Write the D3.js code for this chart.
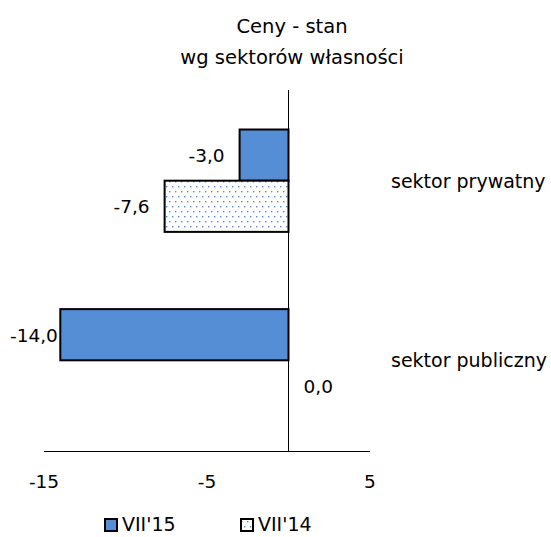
<!DOCTYPE html>
<html>
<head>
<meta charset="utf-8">
<script src="https://cdn.jsdelivr.net/npm/d3@7"></script>
<style>
  body { margin: 0; background: #fff; }
  text { font-family: "DejaVu Sans", Verdana, sans-serif; fill: #000; }
</style>
</head>
<body>
<svg width="551" height="537"></svg>
<script>
var width = 551;
var height = 537;

var categories = ["sektor prywatny", "sektor publiczny"];
var seriesNames = ["VII'15", "VII'14"];
var vii15 = [-3.0, -14.0];
var vii14 = [-7.6, 0.0];
var xTicks = [-15, -5, 5];

var blue = "#558ed5";

var svg = d3.select("svg");

var defs = svg.append("defs");
var pat = defs.append("pattern")
  .attr("id", "dots")
  .attr("patternUnits", "userSpaceOnUse")
  .attr("width", 6)
  .attr("height", 10);
pat.append("rect").attr("width", 6).attr("height", 10).attr("fill", "#fff");
pat.append("rect").attr("x", 1).attr("y", 1).attr("width", 1.4).attr("height", 1.4).attr("fill", blue);
pat.append("rect").attr("x", 4).attr("y", 6).attr("width", 1.4).attr("height", 1.4).attr("fill", blue);

var x = d3.scaleLinear().domain([-15, 5]).range([44, 370]);

var y = d3.scaleBand().domain(categories).range([90, 451]).paddingInner(0.43).paddingOuter(0.22);
var ySub = d3.scaleBand().domain(seriesNames).range([0, y.bandwidth()]);

// hyphen minus like the original, comma decimal
function fmt(v) { return d3.format(".1f")(v).replace("\u2212", "-").replace(".", ","); }

// title
svg.append("text").attr("x", 292).attr("y", 33).attr("text-anchor", "middle")
  .style("font-size", "19.5px").text("Ceny - stan");
svg.append("text").attr("x", 292).attr("y", 64).attr("text-anchor", "middle")
  .style("font-size", "19.5px").text("wg sektorów własności");

var rows = [];
categories.forEach(function (c, i) {
  rows.push({ cat: c, s: seriesNames[0], v: vii15[i] });
  rows.push({ cat: c, s: seriesNames[1], v: vii14[i] });
});

svg.selectAll("rect.bar")
  .data(rows.filter(d => d.v !== 0))
  .enter()
  .append("rect")
    .attr("class", "bar")
    .attr("x", d => x(Math.min(0, d.v)))
    .attr("width", d => Math.abs(x(d.v) - x(0)))
    .attr("y", d => y(d.cat) + ySub(d.s))
    .attr("height", ySub.bandwidth())
    .attr("fill", d => d.s === seriesNames[0] ? blue : "url(#dots)")
    .attr("stroke", "#000")
    .attr("stroke-width", 2);

// value labels
svg.selectAll("text.val")
  .data(rows)
  .enter()
  .append("text")
    .attr("class", "val")
    .style("font-size", "18.5px")
    .attr("y", d => y(d.cat) + ySub(d.s) + ySub.bandwidth() / 2 + 7)
    .text(d => fmt(d.v))
    .each(function (d) {
      var w = this.getComputedTextLength();
      var xx;
      if (d.v < 0) {
        xx = x(d.v) - 15 - w;
        if (xx < 10) xx = 10;
      } else {
        xx = x(0) + 15;
      }
      d3.select(this).attr("x", xx);
    });

// axes lines
svg.append("line").attr("x1", x(0)).attr("x2", x(0)).attr("y1", 90).attr("y2", 451)
  .attr("stroke", "#000").attr("stroke-width", 1);
svg.append("line").attr("x1", x(-15)).attr("x2", x(5)).attr("y1", 451.5).attr("y2", 451.5)
  .attr("stroke", "#000").attr("stroke-width", 1);

svg.selectAll("text.tick")
  .data(xTicks)
  .enter()
  .append("text")
    .attr("class", "tick")
    .attr("x", d => x(d))
    .attr("y", 488)
    .attr("text-anchor", "middle")
    .style("font-size", "18.5px")
    .text(d => String(d));

// category labels
svg.selectAll("text.cat")
  .data(categories)
  .enter()
  .append("text")
    .attr("class", "cat")
    .attr("x", 391)
    .attr("y", d => y(d) + y.bandwidth() / 2 + 7)
    .style("font-size", "19px")
    .text(d => d);

// legend
var legX = [105, 241];
seriesNames.forEach(function (s, i) {
  svg.append("rect")
    .attr("x", legX[i]).attr("y", 519).attr("width", 12).attr("height", 12)
    .attr("fill", i === 0 ? blue : "url(#dots)")
    .attr("stroke", "#000").attr("stroke-width", 2);
  svg.append("text")
    .attr("x", legX[i] + 17).attr("y", 531)
    .style("font-size", "19px")
    .text(s);
});
</script>
</body>
</html>
